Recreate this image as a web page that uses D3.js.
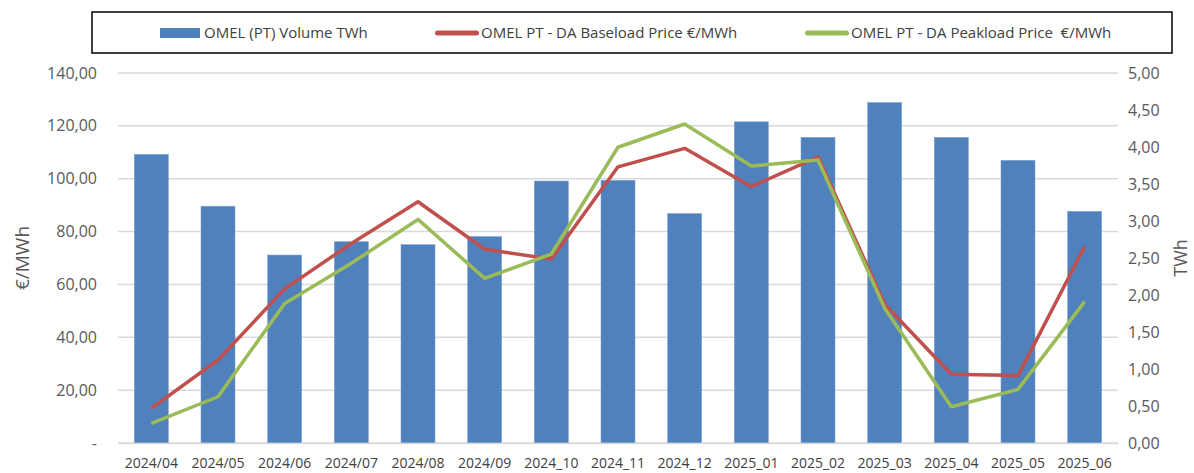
<!DOCTYPE html>
<html>
<head>
<meta charset="utf-8">
<script src="https://cdn.jsdelivr.net/npm/d3@7"></script>
<style>
  body { margin: 0; background: #fff; }
  svg { display: block; font-family: "Open Sans", "Liberation Sans", sans-serif; }
</style>
</head>
<body>
<div id="chart"></div>
<script>
const months = ["2024/04", "2024/05", "2024/06", "2024/07", "2024/08", "2024/09", "2024_10", "2024_11", "2024_12",
  "2025_01", "2025_02", "2025_03", "2025_04", "2025_05", "2025_06"];
const volumeTWh = [3.90, 3.20, 2.54, 2.72, 2.68, 2.79, 3.54, 3.55, 3.10, 4.34, 4.13, 4.60, 4.13, 3.82, 3.13];
const baseloadPrice = [13.1, 31.4, 58.3, 75.5, 91.3, 73.3, 69.6, 104.5, 111.5, 97.0, 108.3, 52.5, 26.0, 25.5, 74.3];
const peakloadPrice = [7.4, 17.5, 52.8, 68.0, 84.6, 62.3, 71.5, 111.9, 120.7, 104.8, 107.1, 51.0, 13.7, 20.3, 53.5];
const leftTicks = [0, 20, 40, 60, 80, 100, 120, 140];
const rightTicks = [0, 0.5, 1, 1.5, 2, 2.5, 3, 3.5, 4, 4.5, 5];
const legendNames = ["OMEL (PT) Volume TWh", "OMEL PT - DA Baseload Price €/MWh", "OMEL PT - DA Peakload Price  €/MWh"];

const width = 1194, height = 473;
const plot = { left: 118, right: 1118, top: 73, bottom: 443 };
const colBar = "#4f81bd", colBase = "#c0504d", colPeak = "#9bbb59";

const svg = d3.select("#chart").append("svg").attr("width", width).attr("height", height);

const x = d3.scaleBand().domain(months).range([plot.left, plot.right]).paddingInner(0.49).paddingOuter(0.245);
const xPt = d3.scaleBand().domain(months).range([plot.left, plot.right]);
const yL = d3.scaleLinear().domain([0, 140]).range([plot.bottom, plot.top]);
const yR = d3.scaleLinear().domain([0, 5]).range([plot.bottom, plot.top]);

// gridlines
svg.append("g")
  .selectAll("line")
  .data(leftTicks)
  .enter()
  .append("line")
  .attr("x1", plot.left)
  .attr("x2", plot.right)
  .attr("y1", (d) => yL(d))
  .attr("y2", (d) => yL(d))
  .attr("stroke", "#d9d9d9")
  .attr("stroke-width", 1.5);

// bars
svg.append("g")
  .selectAll("rect")
  .data(volumeTWh)
  .enter()
  .append("rect")
  .attr("x", (_d, i) => x(months[i]))
  .attr("y", (d) => yR(d))
  .attr("width", x.bandwidth())
  .attr("height", (d) => yR(0) - yR(d))
  .attr("fill", colBar)
  .attr("stroke", "#7da3d3")
  .attr("stroke-width", 0.6);

const line = d3.line()
  .x((_d, i) => xPt(months[i]) + xPt.bandwidth() / 2)
  .y((d) => yL(d));

svg.append("path").datum(baseloadPrice).attr("d", line)
  .attr("fill", "none").attr("stroke", colBase).attr("stroke-width", 3.5).attr("stroke-linejoin", "round");
svg.append("path").datum(peakloadPrice).attr("d", line)
  .attr("fill", "none").attr("stroke", colPeak).attr("stroke-width", 3.5).attr("stroke-linejoin", "round");

// axes
const fmt = (v) => v.toFixed(2).replace(".", ",");
const leftAxis = d3.axisLeft(yL).tickValues(leftTicks).tickSize(0).tickPadding(21)
  .tickFormat((d) => (d === 0 ? "-" : fmt(d)));
svg.append("g").attr("transform", `translate(${plot.left},0)`).call(leftAxis)
  .call((g) => g.select(".domain").remove())
  .selectAll("text").attr("font-size", 16).attr("fill", "#595959").attr("font-family", "Open Sans, sans-serif");

const rightAxis = d3.axisRight(yR).tickValues(rightTicks).tickSize(0).tickPadding(10).tickFormat(fmt);
svg.append("g").attr("transform", `translate(${plot.right},0)`).call(rightAxis)
  .call((g) => g.select(".domain").remove())
  .selectAll("text").attr("font-size", 16).attr("fill", "#595959").attr("font-family", "Open Sans, sans-serif");

const bottomAxis = d3.axisBottom(xPt).tickSize(0).tickPadding(15);
svg.append("g").attr("transform", `translate(0,${plot.bottom})`).call(bottomAxis)
  .call((g) => g.select(".domain").attr("stroke", "#d9d9d9").attr("stroke-width", 1.5))
  .selectAll("text").attr("font-size", 14).attr("fill", "#404040").attr("font-family", "Open Sans, sans-serif");

// axis titles
svg.append("text")
  .attr("transform", `translate(29,${(plot.top + plot.bottom) / 2}) rotate(-90)`)
  .attr("text-anchor", "middle")
  .attr("font-size", 19)
  .attr("fill", "#595959")
  .text("€/MWh");
svg.append("text")
  .attr("transform", `translate(1187,${(plot.top + plot.bottom) / 2}) rotate(-90)`)
  .attr("text-anchor", "middle")
  .attr("font-size", 18)
  .attr("fill", "#595959")
  .text("TWh");

// legend
svg.append("rect")
  .attr("x", 92).attr("y", 12).attr("width", 1080).attr("height", 41)
  .attr("fill", "#fff").attr("stroke", "#000").attr("stroke-width", 1.5);
const legendX = [160, 435, 805];
const legendCols = [colBar, colBase, colPeak];
const leg = svg.append("g")
  .selectAll("g")
  .data(legendNames)
  .enter()
  .append("g")
  .attr("transform", (_d, i) => `translate(${legendX[i]},33)`);
leg.append("rect")
  .attr("x", 0)
  .attr("y", (_d, i) => (i === 0 ? -5 : -2.5))
  .attr("width", (_d, i) => (i === 0 ? 40 : 44))
  .attr("height", (_d, i) => (i === 0 ? 10 : 5))
  .attr("rx", (_d, i) => (i === 0 ? 0 : 2.5))
  .attr("fill", (_d, i) => legendCols[i]);
leg.append("text")
  .attr("x", (_d, i) => (i === 0 ? 44 : 46))
  .attr("dy", "0.35em")
  .attr("font-size", 15)
  .attr("fill", "#404040")
  .style("white-space", "pre")
  .text((d) => d);
</script>
</body>
</html>
